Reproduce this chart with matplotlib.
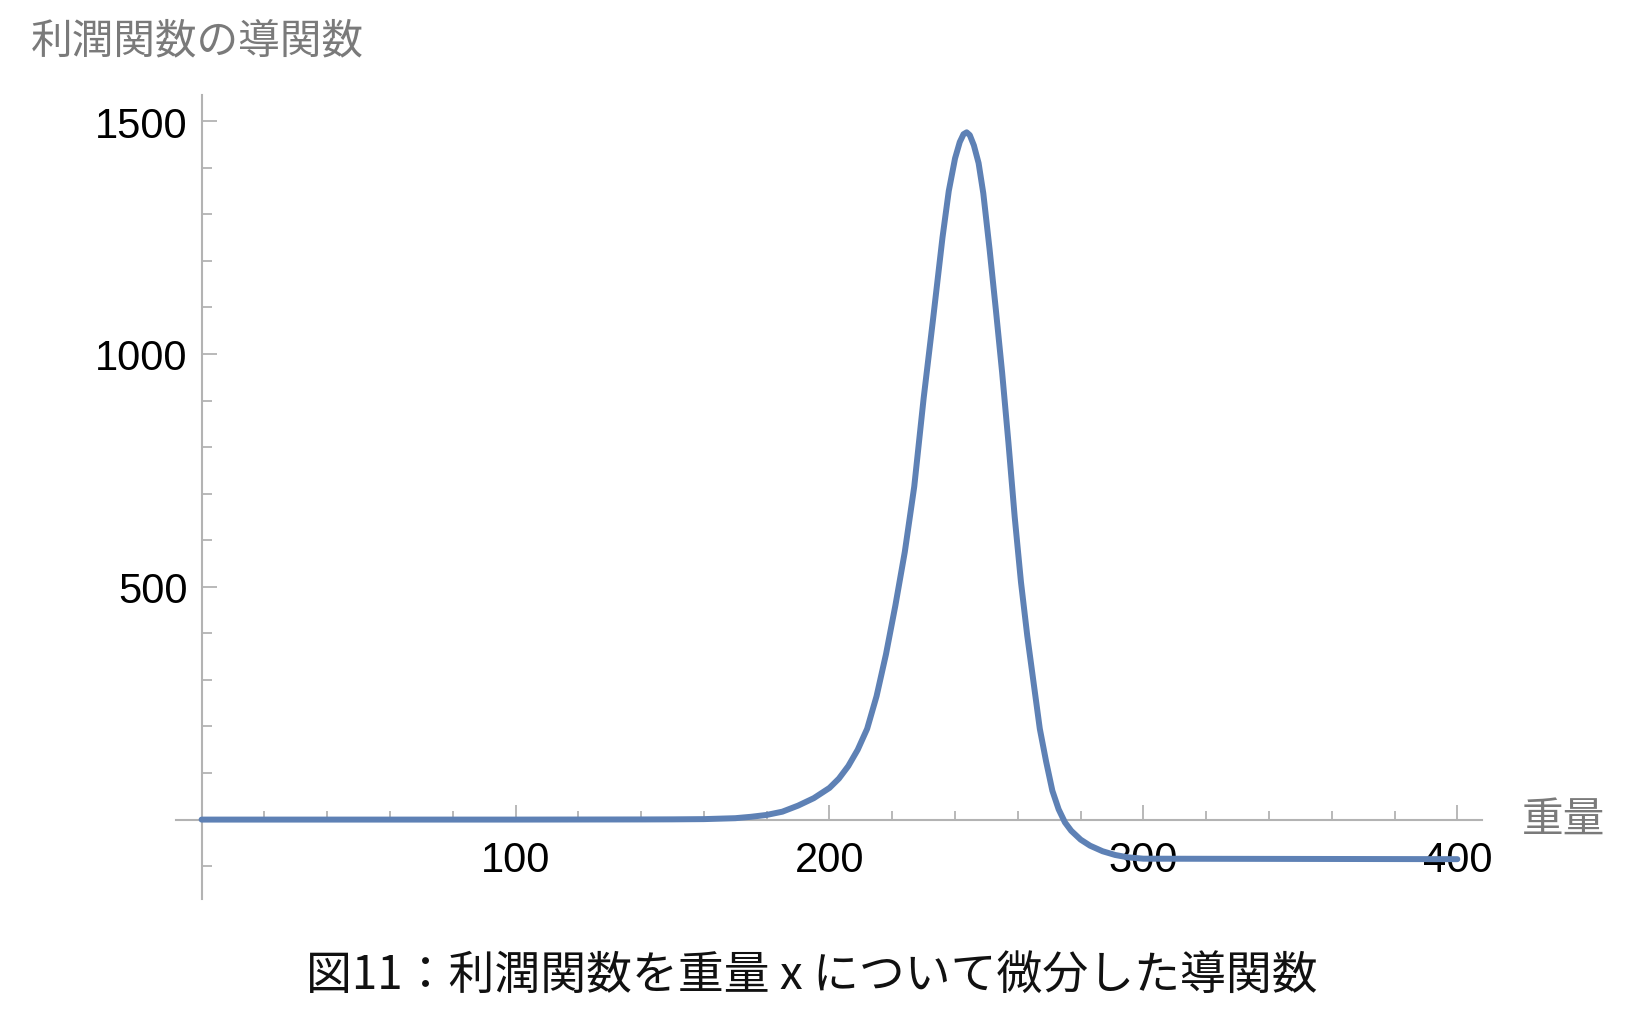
import matplotlib
matplotlib.use("Agg")
import matplotlib.pyplot as plt
from matplotlib.ticker import FixedLocator

plt.rcParams['font.family'] = ['Noto Sans CJK JP', 'DejaVu Sans']

# 曲線の読み取り値 (重量, 導関数)
weight = [0, 100, 140, 150, 160, 170, 175, 180, 185, 190, 195, 200, 203, 206,
          209, 212, 215, 218, 221, 224, 227, 230, 233, 236, 238, 240, 241.5,
          242.7, 243.7, 244.7, 246, 247.5, 249, 251, 253, 255, 257, 259, 261,
          263, 265, 267, 269, 271, 273, 275, 277, 280, 283, 287, 291, 295, 300, 400]
deriv = [0, 0, 0.3, 0.5, 1, 3, 6, 10, 17, 30, 46, 68, 88, 115,
         150, 195, 265, 355, 460, 575, 715, 905, 1075, 1250, 1350, 1420, 1455,
         1472, 1476, 1470, 1448, 1410, 1345, 1225, 1095, 960, 810, 650, 510,
         395, 295, 195, 125, 62, 22, -6, -24, -43, -56, -68, -76, -81, -84, -85]

x_major = [100, 200, 300, 400]
x_minor = [20, 40, 60, 80, 120, 140, 160, 180, 220, 240, 260, 280, 320, 340, 360, 380]
y_major = [500, 1000, 1500]
y_minor = [-100, 100, 200, 300, 400, 600, 700, 800, 900, 1100, 1200, 1300, 1400]

ylabel_text = "利潤関数の導関数"
xlabel_text = "重量"
caption = "図11：利潤関数を重量 x について微分した導関数"

fig = plt.figure(figsize=(16.37, 10.2), dpi=100)
ax = fig.add_axes([0.1078, 0.1179, 0.9056 - 0.1078, 0.9058 - 0.1179])

ax.plot(weight, deriv, color="#5E81B5", lw=4.3, solid_capstyle="round",
        solid_joinstyle="round", clip_on=False, zorder=3)

ax.set_xlim(-8, 408)
ax.set_ylim(-170, 1556)

axis_col = "#b3b3b3"
for s in ["top", "right"]:
    ax.spines[s].set_visible(False)
ax.spines["left"].set_position(("data", 0))
ax.spines["bottom"].set_position(("data", 0))
for s in ["left", "bottom"]:
    ax.spines[s].set_color(axis_col)
    ax.spines[s].set_linewidth(1.5)

ax.xaxis.set_major_locator(FixedLocator(x_major))
ax.xaxis.set_minor_locator(FixedLocator(x_minor))
ax.yaxis.set_major_locator(FixedLocator(y_major))
ax.yaxis.set_minor_locator(FixedLocator(y_minor))
ax.set_xticklabels([str(v) for v in x_major])
ax.set_yticklabels([str(v) for v in y_major])

ax.tick_params(axis="both", which="both", direction="in", color=axis_col, width=1.3)
ax.tick_params(axis="x", which="major", length=10.5, pad=15)
ax.tick_params(axis="x", which="minor", length=6.5)
ax.tick_params(axis="y", which="major", length=10.5, pad=10)
ax.tick_params(axis="y", which="minor", length=7)
for lab in ax.get_xticklabels() + ax.get_yticklabels():
    lab.set_fontfamily("Liberation Sans")
    lab.set_fontsize(30)
    lab.set_color("black")

fig.text(31 / 1637, 1 - 42 / 1020, ylabel_text, ha="left", va="center",
         fontsize=30, color="#7a7a7a")
fig.text(1522 / 1637, 1 - 820 / 1020, xlabel_text, ha="left", va="center",
         fontsize=30, color="#7a7a7a")
fig.text(0.4957, 1 - 976 / 1020, caption, ha="center", va="center",
         fontsize=33, color="#111111")

fig.savefig("out.png", dpi=100)
